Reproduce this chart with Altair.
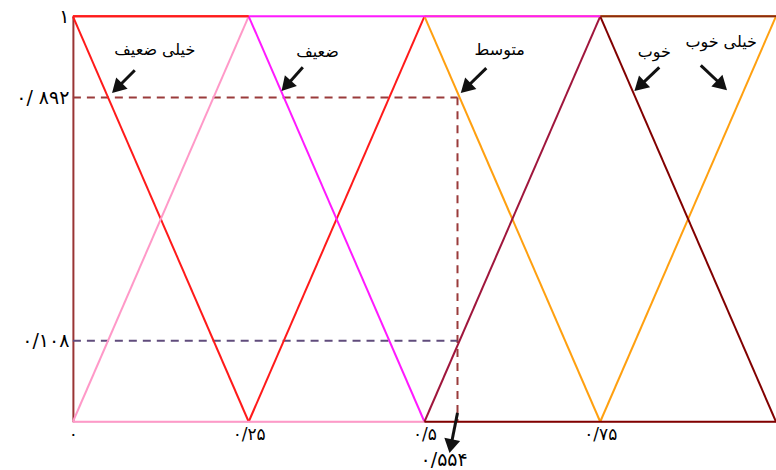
import math
import altair as alt
import pandas as pd

# membership-function segments: x, y, x2, y2, colour
seg_x  = [0.0, 0.25, 0.0,  0.0, 0.25, 0.0,  0.5, 0.75, 0.5,  0.5, 0.75, 0.5, 0.75, 0.25, 0.0]
seg_y  = [1.0, 0.0,  1.0,  0.0, 1.0,  0.0,  1.0, 0.0,  1.0,  0.0, 1.0,  0.0, 1.0,  1.0,  1.0]
seg_x2 = [0.25, 0.5, 0.25, 0.25, 0.5, 0.5,  0.75, 1.0, 1.0,  0.75, 1.0, 1.0, 1.0,  0.75, 0.25]
seg_y2 = [0.0, 1.0,  1.0,  1.0, 0.0,  0.0,  0.0, 1.0,  1.0,  1.0, 0.0,  0.0, 1.0,  1.0,  1.0]
seg_col = ["#ff1a1a", "#ff1a1a", "#ff1a1a",
           "#ff99c8", "#ff1aff", "#ff99c8",
           "#ffa010", "#ffa010", "#ffa010",
           "#a0163c", "#820000", "#820000", "#8a2a10",
           "#ff1aff", "#ff1a1a"]

# reading lines (dashed)
dash_x  = [0.0, 0.547, 0.0]
dash_y  = [0.8, 0.8, 0.2]
dash_x2 = [0.547, 0.547, 0.547]
dash_y2 = [0.8, 0.0, 0.2]
dash_col = ["#9a3b3b", "#9a3b3b", "#604c7c"]

# annotations
lab_text = ["خیلی ضعیف", "ضعیف", "متوسط", "خوب", "خیلی خوب", "۰/۵۵۴"]
lab_x = [0.1165, 0.348, 0.607, 0.827, 0.922, 0.528]
lab_y = [0.916, 0.911, 0.916, 0.911, 0.936, -0.094]
lab_size = [16, 16, 16, 16, 16, 19]
arr_x1 = [0.088, 0.327, 0.588, 0.834, 0.893, 0.547]
arr_y1 = [0.867, 0.874, 0.872, 0.874, 0.879, 0.022]
arr_x2 = [0.057, 0.298, 0.553, 0.800, 0.929, 0.536]
arr_y2 = [0.813, 0.818, 0.813, 0.818, 0.820, -0.074]

ytick_vals = [0.2, 0.8, 1.0]
ytick_labels = ["۰/۱۰۸", "۰/ ۸۹۲", "۱"]
xtick_vals = [0.0, 0.25, 0.5, 0.75]
xtick_labels = ["۰", "۰/۲۵", "۰/۵", "۰/۷۵"]

W, H = 704, 406

segs = pd.DataFrame(dict(x=seg_x, y=seg_y, x2=seg_x2, y2=seg_y2, c=seg_col))
dash = pd.DataFrame(dict(x=dash_x, y=dash_y, x2=dash_x2, y2=dash_y2, c=dash_col))
labs = pd.DataFrame(dict(t=lab_text, x=lab_x, y=lab_y, s=lab_size))

rows = []
for a, b, c, d in zip(arr_x1, arr_y1, arr_x2, arr_y2):
    dxp = (c - a) * W
    dyp = -(d - b) * H
    L = math.hypot(dxp, dyp)
    ux, uy = dxp / L, dyp / L
    back = 8.0
    hx = c - ux * back / W
    hy = d + uy * back / H
    ang = math.degrees(math.atan2(dxp, -dyp)) % 360
    rows.append(dict(x=a, y=b, x2=hx, y2=hy, hx=hx, hy=hy, ang=ang))
arr = pd.DataFrame(rows)

def lab_expr(vals, labels):
    parts = []
    for v, l in zip(vals, labels):
        parts.append(f"abs(datum.value - {v}) < 0.001 ? '{l}' : ")
    return "".join(parts) + "''"

xs = alt.Scale(domain=[0, 1], nice=False, zero=False)
ys = alt.Scale(domain=[0, 1], nice=False, zero=False)

xaxis = alt.Axis(values=xtick_vals, labelExpr=lab_expr(xtick_vals, xtick_labels),
                 grid=False, ticks=False, domain=False, title=None,
                 labelFont="DejaVu Sans", labelFontSize=17, labelColor="#000",
                 labelPadding=5, labelFlush=False)
yaxis = alt.Axis(values=ytick_vals, labelExpr=lab_expr(ytick_vals, ytick_labels),
                 grid=False, ticks=False, domain=True, domainColor="#9a3434",
                 domainWidth=2, title=None, labelFont="DejaVu Sans",
                 labelFontSize=19, labelColor="#000", labelPadding=4, labelFlush=False)

base_axes = alt.Chart(pd.DataFrame({"x": [0.0], "y": [0.0]})).mark_point(opacity=0).encode(
    x=alt.X("x:Q", scale=xs, axis=xaxis),
    y=alt.Y("y:Q", scale=ys, axis=yaxis),
)

lines = alt.Chart(segs).mark_rule(strokeWidth=2, clip=False).encode(
    x=alt.X("x:Q", scale=xs), y=alt.Y("y:Q", scale=ys),
    x2="x2:Q", y2="y2:Q", color=alt.Color("c:N", scale=None),
)

dashed = alt.Chart(dash).mark_rule(strokeWidth=2, strokeDash=[8, 6]).encode(
    x=alt.X("x:Q", scale=xs), y=alt.Y("y:Q", scale=ys),
    x2="x2:Q", y2="y2:Q", color=alt.Color("c:N", scale=None),
)

texts = alt.Chart(labs).mark_text(font="DejaVu Sans", color="#000").encode(
    x=alt.X("x:Q", scale=xs), y=alt.Y("y:Q", scale=ys), text="t:N",
    size=alt.Size("s:Q", scale=None),
)

shafts = alt.Chart(arr).mark_rule(strokeWidth=3, color="#111").encode(
    x=alt.X("x:Q", scale=xs), y=alt.Y("y:Q", scale=ys), x2="x2:Q", y2="y2:Q",
)
heads = alt.Chart(arr).mark_point(shape="triangle", filled=True, size=260,
                                  color="#111", opacity=1).encode(
    x=alt.X("hx:Q", scale=xs), y=alt.Y("hy:Q", scale=ys),
    angle=alt.Angle("ang:Q", scale=None),
)

chart = alt.layer(base_axes, dashed, lines, shafts, heads, texts).properties(
    width=W, height=H,
    autosize=alt.AutoSizeParams(type="none"),
    padding={"left": 73, "top": 16, "right": 0, "bottom": 48},
).configure_view(stroke=None).configure(background="white")

chart.save("out.html", embed_options={"renderer": "svg", "actions": False})
